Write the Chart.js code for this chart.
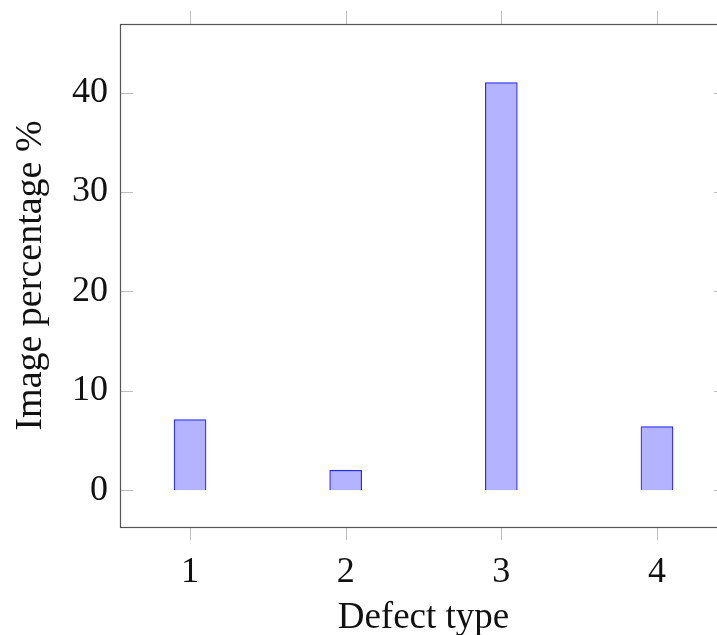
<!DOCTYPE html>
<html>
<head>
<meta charset="utf-8">
<script src="https://cdn.jsdelivr.net/npm/chart.js@4.4.1/dist/chart.umd.min.js"></script>
<style>
  html, body { margin: 0; padding: 0; background: #fff; overflow: hidden; }
  #wrap { width: 740px; height: 635px; }
</style>
</head>
<body>
<div id="wrap"><canvas id="chart" width="740" height="635"></canvas></div>
<script>
// data
const defectTypes = [1, 2, 3, 4];
const imagePercent = [7.1, 2.0, 41.0, 6.4];
const yTicks = [0, 10, 20, 30, 40];

const FONT = '"Liberation Serif", "DejaVu Serif", serif';

// pgfplots-like frame + tick marks (inside on y, outside on x)
const framePlugin = {
    id: 'frame',
    afterDraw(chart) {
        const { ctx, chartArea: a, scales } = chart;
        ctx.save();
        ctx.lineWidth = 1;
        ctx.strokeStyle = '#bdbdbd';
        ctx.beginPath();
        for (const v of defectTypes) {
            const x = Math.round(scales.x.getPixelForValue(v)) + 0.5;
            ctx.moveTo(x, a.top - 13); ctx.lineTo(x, a.top);
            ctx.moveTo(x, a.bottom); ctx.lineTo(x, a.bottom + 13);
        }
        for (const v of yTicks) {
            const y = Math.round(scales.y.getPixelForValue(v)) + 0.5;
            ctx.moveTo(a.left, y); ctx.lineTo(a.left + 13, y);
            ctx.moveTo(a.right - 13, y); ctx.lineTo(a.right, y);
        }
        ctx.stroke();
        ctx.strokeStyle = '#555';
        ctx.lineWidth = 1.2;
        ctx.strokeRect(Math.round(a.left) + 0.5, Math.round(a.top) + 0.5,
            Math.round(a.right - a.left), Math.round(a.bottom - a.top));
        ctx.restore();
    }
};

new Chart(document.getElementById('chart'), {
    type: 'bar',
    data: {
        datasets: [{
            data: defectTypes.map((d, i) => ({ x: d, y: imagePercent[i] })),
            backgroundColor: 'rgb(179,179,255)',
            borderColor: 'rgb(40,40,255)',
            borderWidth: 1.2,
            barThickness: 32
        }]
    },
    options: {
        responsive: false,
        animation: false,
        layout: { padding: { top: 24, right: 13, left: 0, bottom: 0 } },
        plugins: { legend: { display: false }, tooltip: { enabled: false } },
        scales: {
            x: {
                type: 'linear',
                offset: false,
                min: 0.55,
                max: 4.45,
                afterBuildTicks: s => { s.ticks = defectTypes.map(v => ({ value: v })); },
                afterFit: s => { s.height = 108; s.paddingLeft = 0; s.paddingRight = 0; },
                grid: { display: false, drawTicks: false, offset: false },
                border: { display: false },
                ticks: { font: { family: FONT, size: 36 }, color: '#111', padding: 24 },
                title: { display: true, text: 'Defect type', font: { family: FONT, size: 37 }, color: '#111', padding: { top: 0, bottom: -5 } }
            },
            y: {
                min: -3.7,
                max: 46.9,
                afterBuildTicks: s => { s.ticks = yTicks.map(v => ({ value: v })); },
                afterFit: s => { s.width = 120; s.paddingTop = 0; s.paddingBottom = 0; },
                grid: { display: false, drawTicks: false },
                border: { display: false },
                ticks: { font: { family: FONT, size: 36 }, color: '#111', padding: 12 },
                title: { display: true, text: 'Image percentage %', font: { family: FONT, size: 38 }, color: '#111', padding: { top: 8, bottom: 0 } }
            }
        }
    },
    plugins: [framePlugin]
});
</script>
</body>
</html>
